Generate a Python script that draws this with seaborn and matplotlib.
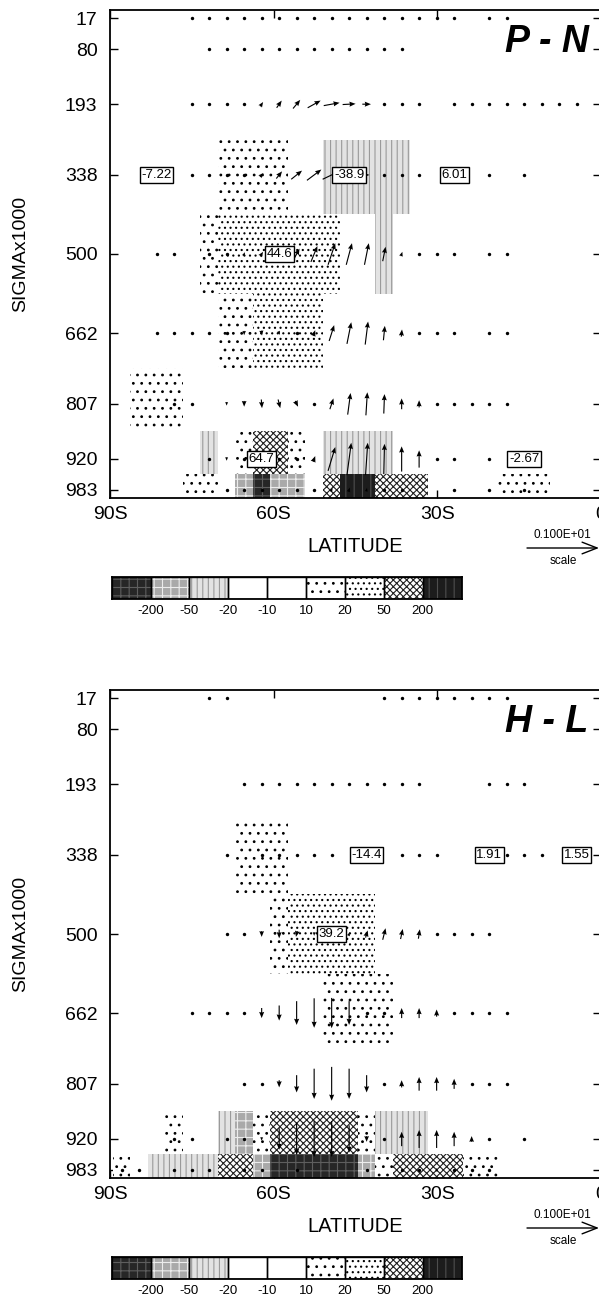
import numpy as np
import pandas as pd
import matplotlib
matplotlib.use("Agg")
import matplotlib.pyplot as plt
import seaborn as sns

n = np.nan

# ---------------- grid / axes values ----------------
lats = [-87.86, -84.65, -81.45, -78.24, -75.03, -71.82, -68.62, -65.41, -62.20, -58.99,
        -55.79, -52.58, -49.37, -46.17, -42.96, -39.75, -36.54, -33.34, -30.13, -26.92,
        -23.71, -20.51, -17.30, -14.09, -10.88, -7.68, -4.47, -1.26]
levels = [17, 80, 193, 338, 500, 662, 807, 920, 983]
lat_ticks = [-90, -60, -30, 0]
lat_ticklabels = ["90S", "60S", "30S", "0"]
bin_edges = [-200, -50, -20, -10, 10, 20, 50, 200]
bin_labels = ["-200", "-50", "-20", "-10", "10", "20", "50", "200"]
scale_value = 1.0

# ---------------- P - N panel ----------------
pn_shade = [
    [0,0,0,0,0,0,0,0,0,0,0,0,0,0,0,0,0,0,0,0,0,0,0,0,0,0,0,0],
    [0,0,0,0,0,0,0,0,0,0,0,0,0,0,0,0,0,0,0,0,0,0,0,0,0,0,0,0],
    [0,0,0,0,0,0,0,0,0,0,0,0,0,0,0,0,0,0,0,0,0,0,0,0,0,0,0,0],
    [0,0,0,0,0,0,15,15,15,15,0,0,-30,-30,-30,-30,-30,0,0,0,0,0,0,0,0,0,0,0],
    [0,0,0,0,0,15,30,30,30,30,30,30,30,0,0,-30,0,0,0,0,0,0,0,0,0,0,0,0],
    [0,0,0,0,0,0,15,15,30,30,30,30,0,0,0,0,0,0,0,0,0,0,0,0,0,0,0,0],
    [0,15,15,15,0,0,0,0,0,0,0,0,0,0,0,0,0,0,0,0,0,0,0,0,0,0,0,0],
    [0,0,0,0,0,-30,0,15,70,70,15,0,-30,-30,-30,-30,0,0,0,0,0,0,0,0,0,0,0,0],
    [0,0,0,0,15,15,0,-80,-250,-80,-80,0,70,250,250,70,70,70,0,0,0,0,15,15,15,0,0,0],
]
pn_u = [
    [n,n,n,n,0,0,0,0,.04,.04,.04,.04,.04,.04,.04,.04,.04,.04,0,0,n,0,0,n,n,n,n,n],
    [n,n,n,n,n,0,0,0,0,0,0,0,0,0,0,0,0,n,n,n,n,n,n,n,n,n,n,n],
    [n,n,n,n,0,0,0,0,.04,.07,.10,.18,.22,.18,.12,.04,0,0,n,0,0,0,0,0,0,0,0,n],
    [n,n,n,n,0,0,0,0,.05,.08,.15,.20,.25,.15,.08,.03,0,0,n,n,n,0,n,0,n,n,n,n],
    [n,n,0,0,n,0,0,.02,.04,.06,.08,.09,.10,.08,.06,.04,.02,0,0,0,n,0,0,n,n,n,n,n],
    [n,n,0,0,0,0,0,0,.01,.02,0,.03,.07,.06,.04,.02,.01,0,0,0,n,0,0,n,n,n,n,n],
    [n,n,n,0,0,n,0,0,.01,.03,.04,0,.05,.04,.02,.01,0,0,0,0,0,0,0,n,n,n,n,n],
    [n,n,n,n,n,0,0,0,n,0,.01,.03,.10,.06,.03,.01,0,0,0,0,n,0,n,n,n,n,n,n],
    [n,n,n,n,n,n,0,0,0,0,0,.02,.03,.02,.01,.01,0,n,n,0,n,0,n,0,n,n,n,n],
]
pn_v = [
    [n,n,n,n,0,0,0,0,0,0,0,0,0,0,0,0,0,0,0,0,n,0,0,n,n,n,n,n],
    [n,n,n,n,n,0,0,0,0,0,0,0,0,0,0,0,0,n,n,n,n,n,n,n,n,n,n,n],
    [n,n,n,n,0,0,0,0,.06,.10,.12,.10,.04,.01,0,0,0,0,n,0,0,0,0,0,0,0,0,n],
    [n,n,n,n,0,0,0,0,.05,.10,.12,.15,.12,.03,0,0,0,0,n,n,n,0,n,0,n,n,n,n],
    [n,n,0,0,n,0,-.03,.05,.06,.10,.15,.22,.30,.30,.30,.20,.06,0,0,0,n,0,0,n,n,n,n,n],
    [n,n,0,0,0,0,-.04,-.06,-.07,-.05,0,.08,.22,.30,.32,.20,.10,0,0,0,n,0,0,n,n,n,n,n],
    [n,n,n,0,0,n,-.05,-.08,-.12,-.12,-.08,0,.15,.30,.32,.27,.15,.10,0,0,0,0,0,n,n,n,n,n],
    [n,n,n,n,n,-.04,-.05,-.02,n,0,.02,.08,.33,.45,.45,.42,.35,.24,0,0,n,0,n,n,n,n,n,n],
    [n,n,n,n,n,n,0,-.03,-.03,-.03,0,.04,.05,.06,.05,.04,.03,n,n,0,n,0,n,0,n,n,n,n],
]
pn_label_text = ["-7.22", "-38.9", "6.01", "44.6", "64.7", "-2.67"]
pn_label_lat = [lats[2], lats[13], lats[19], lats[9], lats[8], lats[23]]
pn_label_lev = [338, 338, 338, 500, 920, 920]

# ---------------- H - L panel ----------------
hl_shade = [
    [0,0,0,0,0,0,0,0,0,0,0,0,0,0,0,0,0,0,0,0,0,0,0,0,0,0,0,0],
    [0,0,0,0,0,0,0,0,0,0,0,0,0,0,0,0,0,0,0,0,0,0,0,0,0,0,0,0],
    [0,0,0,0,0,0,0,0,0,0,0,0,0,0,0,0,0,0,0,0,0,0,0,0,0,0,0,0],
    [0,0,0,0,0,0,0,15,15,15,0,0,0,0,0,0,0,0,0,0,0,0,0,0,0,0,0,0],
    [0,0,0,0,0,0,0,0,0,15,30,30,30,30,30,0,0,0,0,0,0,0,0,0,0,0,0,0],
    [0,0,0,0,0,0,0,0,0,0,0,0,15,15,15,15,0,0,0,0,0,0,0,0,0,0,0,0],
    [0,0,0,0,0,0,0,0,0,0,0,0,0,0,0,0,0,0,0,0,0,0,0,0,0,0,0,0],
    [0,0,0,15,0,0,-30,-80,15,70,70,70,70,70,15,-30,-30,-30,0,0,0,0,0,0,0,0,0,0],
    [15,0,-30,-30,-30,-30,70,70,-80,-250,-250,-250,-250,-250,-80,15,70,70,70,70,15,15,0,0,0,0,0,0],
]
hl_u = [
    [n,n,n,n,n,0,0,n,n,n,n,n,n,n,n,0,0,0,0,0,0,0,0,n,n,n,n,n],
    [n,n,n,n,n,n,n,n,n,n,n,n,n,n,n,n,n,n,n,n,n,n,n,n,n,n,n,n],
    [n,n,n,n,n,n,n,0,0,0,0,0,0,0,0,0,0,0,n,n,n,0,0,0,n,n,n,n],
    [n,n,n,n,n,n,0,n,0,0,0,0,0,n,n,n,0,0,0,n,n,n,0,0,0,n,n,n],
    [n,n,n,n,n,n,0,0,0,0,-.02,0,n,.02,.03,.04,.03,.02,0,0,0,0,n,n,n,n,n,n],
    [n,n,n,n,0,0,0,0,0,0,0,0,0,0,0,0,0,0,0,0,0,0,0,n,n,n,n,n],
    [n,n,n,n,n,n,n,0,0,0,0,0,0,0,0,0,0,0,0,0,0,0,0,n,n,n,n,n],
    [n,n,n,0,0,n,0,0,0,0,0,0,0,0,0,0,0,0,0,0,0,0,n,0,n,n,n,n],
    [0,0,n,0,0,0,n,0,0,n,0,n,n,n,0,n,0,0,0,0,0,0,n,n,n,n,n,n],
]
hl_v = [
    [n,n,n,n,n,0,0,n,n,n,n,n,n,n,n,0,0,0,0,0,0,0,0,n,n,n,n,n],
    [n,n,n,n,n,n,n,n,n,n,n,n,n,n,n,n,n,n,n,n,n,n,n,n,n,n,n,n],
    [n,n,n,n,n,n,n,0,0,0,0,0,0,0,0,0,0,0,n,n,n,0,0,0,n,n,n,n],
    [n,n,n,n,n,n,0,n,0,0,0,0,0,n,n,n,0,0,0,n,n,n,0,0,0,n,n,n],
    [n,n,n,n,n,n,0,0,-.08,-.12,-.08,-.05,n,.05,.10,.16,.14,.13,0,0,0,0,n,n,n,n,n,n],
    [n,n,n,n,0,0,0,0,-.14,-.21,-.33,-.41,-.42,-.33,-.04,0,.14,.14,.10,0,0,0,0,n,n,n,n,n],
    [n,n,n,n,n,n,n,0,0,-.10,-.24,-.42,-.47,-.42,-.24,0,.10,.19,.19,.14,0,0,0,n,n,n,n,n],
    [n,n,n,0,0,n,-.03,-.04,-.05,-.30,-.45,-.50,-.50,-.38,-.08,.02,.20,.25,.25,.20,.08,.03,n,0,n,n,n,n],
    [0,0,n,-.03,-.03,0,n,0,0,n,0,n,n,n,0,n,0,.04,.05,0,0,0,n,n,n,n,n,n],
]
hl_label_text = ["-14.4", "1.91", "1.55", "39.2"]
hl_label_lat = [lats[14], lats[21], lats[26], lats[12]]
hl_label_lev = [338, 338, 338, 500]

# ---------------- styling ----------------
sns.set_theme(style="ticks", rc={"axes.edgecolor": "black", "text.color": "black",
                                 "xtick.color": "black", "ytick.color": "black",
                                 "axes.labelcolor": "black"})
plt.rcParams["font.family"] = ["Liberation Sans", "DejaVu Sans"]
plt.rcParams["hatch.linewidth"] = 0.8

bin_face = ["#262626", "#a9a9a9", "#e3e3e3", "white", "white", "white", "white", "white", "#1c1c1c"]
bin_hatch = ["++", "++", "|||", None, None, "..", "...", "xxxxx", "||"]
bin_hcolor = ["#5e5e5e", "#ececec", "#9a9a9a", "white", "white", "black", "black", "#202020", "#4e4e4e"]

W, H = 599, 1300
DLAT = 3.207
UNIT_IN = 0.72  # inches per unit vector
lev_arr = np.asarray(levels, float)
lev_edges = np.concatenate([[0.0], (lev_arr[:-1] + lev_arr[1:]) / 2, [1000.0]])


def rect(l, t, r, b):
    return [l / W, 1 - b / H, (r - l) / W, (b - t) / H]


fig = plt.figure(figsize=(W / 100, H / 100), dpi=100)


def draw_panel(dy, shade, u, v, ltxt, llat, llev, title):
    ax = fig.add_axes(rect(110, 10 + dy, 601, 498 + dy))
    lat_arr = np.asarray(lats)
    sh = np.asarray(shade, float)
    bins = np.digitize(sh, bin_edges)
    top = lev_edges[:-1]
    bot = lev_edges[1:]
    for b in range(9):
        if b in (3, 4):
            continue
        ii, kk = np.nonzero(bins == b)
        if len(ii) == 0:
            continue
        ax.bar(lat_arr[kk], bot[ii] - top[ii], bottom=top[ii], width=DLAT, align="center",
               color=bin_face[b], edgecolor=bin_hcolor[b], linewidth=0,
               hatch=bin_hatch[b], antialiased=False, zorder=1)

    U = np.asarray(u, float)
    V = np.asarray(v, float)
    LAT, LEV = np.meshgrid(lats, levels)
    present = ~np.isnan(U)
    df = pd.DataFrame({"lat": LAT[present], "sigma": LEV[present],
                       "u": U[present], "v": V[present]})
    df["mag"] = np.hypot(df.u, df.v)
    dots = df[df.mag < 0.05]
    sns.scatterplot(data=dots, x="lat", y="sigma", ax=ax, s=6, color="black",
                    linewidth=0, legend=False, zorder=4)
    arr = df[df.mag >= 0.05]
    ax.quiver(arr.lat.values, arr.sigma.values, arr.u.values, arr.v.values,
              angles="uv", scale_units="inches", scale=1 / UNIT_IN, pivot="middle",
              width=0.0023, headwidth=4.5, headlength=5.5, headaxislength=5,
              color="black", zorder=5)

    for t, la, le in zip(ltxt, llat, llev):
        ax.text(la, le, t, ha="center", va="center", fontsize=9.5, zorder=7,
                bbox=dict(boxstyle="square,pad=0.12", fc="white", ec="black", lw=1.0))

    ax.text(0.975, 0.935, title, transform=ax.transAxes, ha="right", va="center",
            fontsize=27, fontweight="bold", fontstyle="italic", zorder=8)

    ax.set_xlim(-90, 0)
    ax.set_ylim(1000, 0)
    ax.set_xticks(lat_ticks)
    ax.set_xticklabels(lat_ticklabels)
    ax.set_yticks(levels)
    ax.set_yticklabels([str(l) for l in levels])
    ax.tick_params(axis="both", direction="in", length=6, width=1.0,
                   top=True, right=True, labelsize=14)
    ax.tick_params(axis="y", pad=9)
    ax.tick_params(axis="x", pad=6)
    for s in ax.spines.values():
        s.set_linewidth(1.3)
    ax.set_xlabel("LATITUDE", fontsize=14.5)
    ax.xaxis.set_label_coords(0.5, -0.1004)
    ax.xaxis.label.set_verticalalignment("center")
    ax.set_ylabel("SIGMAx1000", fontsize=14)
    ax.yaxis.set_label_coords((21 - 110) / 491, 0.5)
    ax.yaxis.label.set_verticalalignment("center")

    # colour key
    cax = fig.add_axes(rect(111.7, 577 + dy, 461.7, 599 + dy))
    xs = np.arange(9)
    for b in range(9):
        cax.bar([xs[b]], [1], width=1, bottom=0, color=bin_face[b], edgecolor=bin_hcolor[b],
                linewidth=0, hatch=bin_hatch[b], antialiased=False, zorder=1)
    cax.bar(xs, [1] * 9, width=1, bottom=0, fill=False, edgecolor="black", linewidth=1.0, zorder=2)
    cax.set_xlim(-0.5, 8.5)
    cax.set_ylim(0, 1)
    cax.set_yticks([])
    cax.set_xticks(xs[:-1] + 0.5)
    cax.set_xticklabels(bin_labels)
    cax.tick_params(axis="x", length=0, pad=4, labelsize=9.5)
    for s in cax.spines.values():
        s.set_linewidth(1.3)

    # vector scale key
    fig.text(562 / W, 1 - (535 + dy) / H, "0.100E+01", ha="center", va="center", fontsize=8.5)
    fig.text(563 / W, 1 - (561 + dy) / H, "scale", ha="center", va="center", fontsize=8.5)
    x0 = 599 - UNIT_IN * 100 * scale_value
    ax.annotate("", xy=(599, H - (548 + dy)), xytext=(x0, H - (548 + dy)),
                xycoords="figure pixels", textcoords="figure pixels",
                arrowprops=dict(arrowstyle="->,head_length=0.9,head_width=0.35",
                                lw=1.0, color="black", shrinkA=0, shrinkB=0),
                annotation_clip=False)
    return ax


draw_panel(0, pn_shade, pn_u, pn_v, pn_label_text, pn_label_lat, pn_label_lev, "P - N")
draw_panel(680, hl_shade, hl_u, hl_v, hl_label_text, hl_label_lat, hl_label_lev, "H - L")

fig.savefig("out.png", dpi=100, facecolor="white")
